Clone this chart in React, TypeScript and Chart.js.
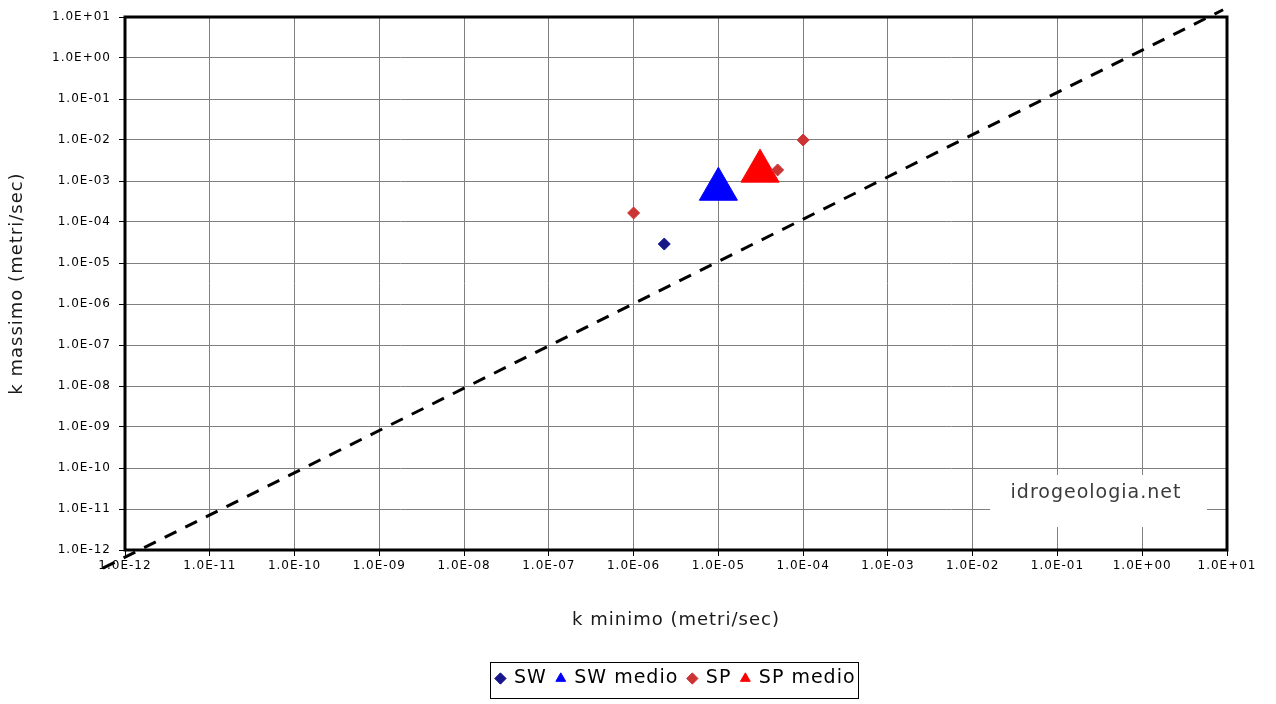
import React, { useEffect, useRef } from "react";
import { Chart, registerables } from "chart.js";

Chart.register(...registerables);

// ---- data ----
const decadeTicks = [1e-12, 1e-11, 1e-10, 1e-9, 1e-8, 1e-7, 1e-6, 1e-5, 1e-4, 1e-3, 1e-2, 1e-1, 1e0, 1e1];
const tickLabels = [
  "1.0E-12", "1.0E-11", "1.0E-10", "1.0E-09", "1.0E-08", "1.0E-07", "1.0E-06",
  "1.0E-05", "1.0E-04", "1.0E-03", "1.0E-02", "1.0E-01", "1.0E+00", "1.0E+01",
];
const seriesNames = ["SW", "SW medio", "SP", "SP medio"];
const swX = [2.3e-6];
const swY = [2.9e-5];
const swMedioX = [1.0e-5];
const swMedioY = [6.3e-4];
const spX = [1.0e-6, 5.0e-5, 1.0e-4];
const spY = [1.66e-4, 1.86e-3, 1.0e-2];
const spMedioX = [3.1e-5];
const spMedioY = [1.74e-3];
const lineX = [5.5e-13, 9.0];
const lineY = [3.6e-13, 15];
const xTitle = "k minimo (metri/sec)";
const yTitle = "k massimo (metri/sec)";
const watermark = "idrogeologia.net";

const FONT = "'DejaVu Sans', Verdana, sans-serif";

const pts = (xs: number[], ys: number[]) => xs.map((x, i) => ({ x, y: ys[i] }));

const spacingPlugin = {
  id: "spacing",
  beforeUpdate(chart: any) {
    chart.ctx.letterSpacing = "1px";
  },
  beforeDraw(chart: any) {
    chart.ctx.letterSpacing = "1px";
  },
};

const decorPlugin = {
  id: "decor",
  beforeDatasetsDraw(chart: any) {
    const { ctx, chartArea } = chart;
    const { left, top, right, bottom } = chartArea;
    ctx.save();
    // watermark box
    ctx.fillStyle = "#ffffff";
    ctx.fillRect(right - 237, bottom - 75, 217, 52);
    ctx.fillStyle = "#3a3a3a";
    ctx.font = `19px ${FONT}`;
    ctx.textAlign = "center";
    ctx.textBaseline = "middle";
    ctx.fillText(watermark, right - 131, bottom - 57);
    // plot border
    ctx.strokeStyle = "#000000";
    ctx.lineWidth = 3;
    ctx.strokeRect(left, top, right - left, bottom - top);
    ctx.restore();
  },
  afterDraw(chart: any) {
    const lg = chart.legend;
    if (!lg || !lg.legendHitBoxes || !lg.legendHitBoxes.length) return;
    const boxes = lg.legendHitBoxes;
    let minL = Infinity, maxR = -Infinity, minT = Infinity, maxB = -Infinity;
    boxes.forEach((b: any) => {
      minL = Math.min(minL, b.left);
      maxR = Math.max(maxR, b.left + b.width);
      minT = Math.min(minT, b.top);
      maxB = Math.max(maxB, b.top + b.height);
    });
    const cy = (minT + maxB) / 2;
    const { ctx } = chart;
    ctx.save();
    ctx.strokeStyle = "#000000";
    ctx.lineWidth = 1;
    ctx.strokeRect(Math.round(minL - 6) + 0.5, Math.round(cy - 17) + 0.5, Math.round(maxR - minL + 9), 36);
    ctx.restore();
  },
};

const logAxis = (titleText: string, isX: boolean) => ({
  type: "logarithmic" as const,
  min: decadeTicks[0],
  max: decadeTicks[decadeTicks.length - 1],
  afterBuildTicks: (scale: any) => {
    scale.ticks = decadeTicks.map((v) => ({ value: v }));
  },
  afterFit: (scale: any) => {
    if (isX) scale.height = 109;
    else scale.width = 125;
    scale.paddingTop = 0;
    scale.paddingBottom = 0;
    scale.paddingLeft = 0;
    scale.paddingRight = 0;
  },
  ticks: {
    autoSkip: false,
    maxRotation: 0,
    minRotation: 0,
    padding: isX ? 3 : 8,
    color: "#000000",
    font: { family: FONT, size: 12 },
    callback: (_v: any, i: number) => tickLabels[i],
  },
  grid: {
    color: "#808080",
    lineWidth: 1,
    drawTicks: true,
    tickLength: 6,
    tickColor: "#000000",
  },
  border: { display: false },
  title: {
    display: true,
    text: titleText,
    color: "#1a1a1a",
    font: { family: FONT, size: 18 },
    padding: isX ? { top: 0, bottom: 28 } : { top: 7, bottom: 0 },
  },
});

export default function App() {
  const ref = useRef<HTMLCanvasElement | null>(null);

  useEffect(() => {
    if (!ref.current) return;
    const chart = new Chart(ref.current, {
      type: "scatter",
      data: {
        datasets: [
          {
            label: seriesNames[0],
            data: pts(swX, swY),
            pointStyle: "rectRot",
            pointRadius: 6,
            pointHoverRadius: 6,
            backgroundColor: "#16168a",
            borderColor: "#16168a",
            borderWidth: 1,
          },
          {
            label: seriesNames[1],
            data: pts(swMedioX, swMedioY),
            pointStyle: "triangle",
            pointRadius: 22,
            pointHoverRadius: 22,
            backgroundColor: "#0000ff",
            borderColor: "#0000ff",
            borderWidth: 1,
          },
          {
            label: seriesNames[2],
            data: pts(spX, spY),
            pointStyle: "rectRot",
            pointRadius: 6,
            pointHoverRadius: 6,
            backgroundColor: "#cc3333",
            borderColor: "#cc3333",
            borderWidth: 1,
          },
          {
            label: seriesNames[3],
            data: pts(spMedioX, spMedioY),
            pointStyle: "triangle",
            pointRadius: 22,
            pointHoverRadius: 22,
            backgroundColor: "#ff0000",
            borderColor: "#ff0000",
            borderWidth: 1,
          },
          {
            label: "",
            data: pts(lineX, lineY),
            showLine: true,
            pointRadius: 0,
            pointHoverRadius: 0,
            borderColor: "#000000",
            borderWidth: 3,
            borderDash: [13, 10],
            clip: false as any,
          } as any,
        ],
      },
      options: {
        animation: false,
        responsive: false,
        maintainAspectRatio: false,
        events: [],
        layout: { autoPadding: false, padding: { top: 17, right: 49, bottom: 6, left: 0 } },
        scales: {
          x: logAxis(xTitle, true) as any,
          y: logAxis(yTitle, false) as any,
        },
        plugins: {
          tooltip: { enabled: false },
          legend: {
            display: true,
            position: "bottom",
            fullSize: false,
            labels: {
              usePointStyle: true,
              boxWidth: 8,
              boxHeight: 8,
              padding: 10,
              color: "#000000",
              font: { family: FONT, size: 19 },
              filter: (item: any) => item.text !== "",
            },
          },
        },
      },
      plugins: [spacingPlugin, decorPlugin],
    });
    return () => chart.destroy();
  }, []);

  return (
    <div style={{ position: "absolute", left: 0, top: 0, width: 1276, height: 704, background: "#ffffff" }}>
      <canvas ref={ref} width={1276} height={704} style={{ display: "block" }} />
    </div>
  );
}
